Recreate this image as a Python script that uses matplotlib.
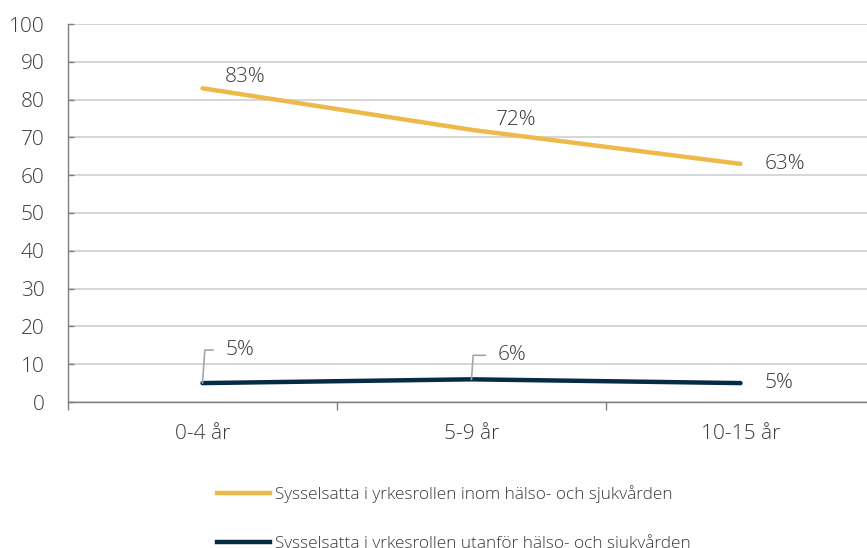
import matplotlib.pyplot as plt
from matplotlib.lines import Line2D

plt.rcParams['font.family'] = ['Open Sans', 'DejaVu Sans']
plt.rcParams['font.weight'] = 'light'

categories = ['0-4 år', '5-9 år', '10-15 år']
inom = [83, 72, 63]
utanfor = [5, 6, 5]
series_names = ['Sysselsatta i yrkesrollen inom hälso- och sjukvården',
                'Sysselsatta i yrkesrollen utanför hälso- och sjukvården']
yticks = list(range(0, 101, 10))

gold = '#EEB94B'
navy = '#062C45'
txt = '#3a3a3a'
grid = '#d0d0d0'
axis_grey = '#7f7f7f'

fig = plt.figure(figsize=(8.67, 5.48), dpi=100)
ax = fig.add_axes([68 / 867, 146 / 548, 807 / 867, 378 / 548])

x = list(range(len(categories)))
ax.plot(x, inom, color=gold, lw=3.2, solid_capstyle='round', zorder=3)
ax.plot(x, utanfor, color=navy, lw=3.2, solid_capstyle='round', zorder=3)

ax.set_xlim(-0.5, 2.5)
ax.set_ylim(0, 100)
ax.set_yticks(yticks)
ax.yaxis.grid(True, color=grid, lw=1.2)
ax.set_axisbelow(True)

ax.set_xticks(x)
ax.set_xticklabels(categories)
ax.set_xticks([-0.5, 0.5, 1.5], minor=True)
ax.tick_params(axis='x', which='major', length=0, pad=16, labelsize=15, labelcolor=txt)
ax.tick_params(axis='x', which='minor', length=6, width=1, color=axis_grey, direction='out')
ax.tick_params(axis='y', length=4, width=1, color=axis_grey, direction='in', pad=17,
               labelsize=15, labelcolor=txt)

for s in ['top', 'right']:
    ax.spines[s].set_visible(False)
ax.spines['left'].set_color(axis_grey)
ax.spines['bottom'].set_color(axis_grey)
ax.spines['left'].set_linewidth(1)
ax.spines['bottom'].set_linewidth(1)

# value labels
label_kw = dict(textcoords='offset points', ha='left', va='center', fontsize=15, color=txt)
offsets_inom = [(15.8, 7.9), (17.3, 7.2), (17.3, 0)]
for xi, v, off in zip(x, inom, offsets_inom):
    ax.annotate(f'{v}%', (xi, v), xytext=off, **label_kw)

offsets_ut = [(16.6, 23.8), (19.0, 17.3), (17.3, 0)]
for i, (xi, v, off) in enumerate(zip(x, utanfor, offsets_ut)):
    if off[1] > 0:
        ax.annotate(f'{v}%', (xi, v), xytext=off,
                    arrowprops=dict(arrowstyle='-', color='#a6a6a6', lw=1.2,
                                    connectionstyle='angle,angleA=0,angleB=86,rad=0',
                                    shrinkA=7, shrinkB=0, relpos=(0, 0.5)),
                    **label_kw)
    else:
        ax.annotate(f'{v}%', (xi, v), xytext=off, **label_kw)

handles = [Line2D([], [], color=gold, lw=3.2), Line2D([], [], color=navy, lw=3.2)]
fig.legend(handles, series_names, loc='upper left', bbox_to_anchor=(217 / 867, 1 - 485.5 / 548),
           frameon=False, fontsize=12.4, handlelength=3.1, handletextpad=0.27,
           labelspacing=1.78, borderpad=0, borderaxespad=0, labelcolor=txt)

fig.savefig('out.png', dpi=100)
